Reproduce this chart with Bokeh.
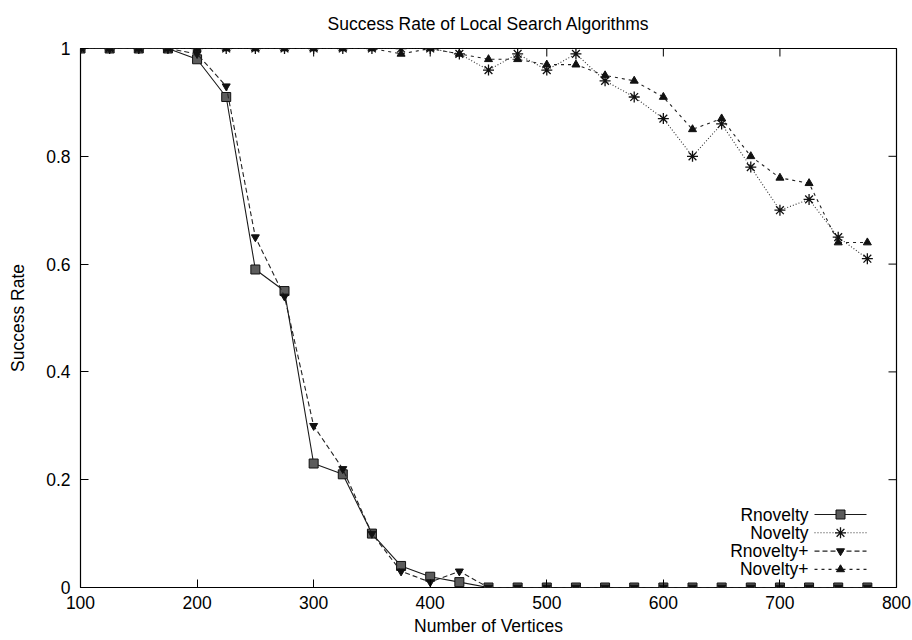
from bokeh.plotting import figure
from bokeh.models import ColumnDataSource, LinearAxis, FixedTicker, Label, Range1d
from bokeh.embed import file_html
from bokeh.resources import INLINE

# Number of vertices tested
vertices = [100, 125, 150, 175, 200, 225, 250, 275, 300, 325, 350, 375, 400, 425,
            450, 475, 500, 525, 550, 575, 600, 625, 650, 675, 700, 725, 750, 775]

# Success rate per algorithm
rnovelty = [1.0, 1.0, 1.0, 1.0, 0.98, 0.91, 0.59, 0.55, 0.23, 0.21, 0.10, 0.04, 0.02, 0.01,
            0.0, 0.0, 0.0, 0.0, 0.0, 0.0, 0.0, 0.0, 0.0, 0.0, 0.0, 0.0, 0.0, 0.0]
novelty = [1.0, 1.0, 1.0, 1.0, 1.0, 1.0, 1.0, 1.0, 1.0, 1.0, 1.0, 1.0, 1.0, 0.99,
           0.96, 0.99, 0.96, 0.99, 0.94, 0.91, 0.87, 0.80, 0.86, 0.78, 0.70, 0.72, 0.65, 0.61]
rnovelty_plus = [1.0, 1.0, 1.0, 1.0, 0.99, 0.93, 0.65, 0.54, 0.30, 0.22, 0.10, 0.03, 0.01, 0.03,
                 0.0, 0.0, 0.0, 0.0, 0.0, 0.0, 0.0, 0.0, 0.0, 0.0, 0.0, 0.0, 0.0, 0.0]
novelty_plus = [1.0, 1.0, 1.0, 1.0, 1.0, 1.0, 1.0, 1.0, 1.0, 1.0, 1.0, 0.99, 1.0, 0.99,
                0.98, 0.98, 0.97, 0.97, 0.95, 0.94, 0.91, 0.85, 0.87, 0.80, 0.76, 0.75, 0.64, 0.64]

series_names = ["Rnovelty", "Novelty", "Rnovelty+", "Novelty+"]
x_ticks = [100, 200, 300, 400, 500, 600, 700, 800]
y_ticks = [0, 0.2, 0.4, 0.6, 0.8, 1.0]
y_tick_labels = ["0", "0.2", "0.4", "0.6", "0.8", "1"]

FONT = "Liberation Sans"
FS = "17.5px"

# Frame size in pixels; the key and mirrored ticks use a pixel coordinate system
FRAME_W, FRAME_H = 816, 539
TICK_LEN = 8

# Per-series line / marker styles (gnuplot-like monochrome)
styles = [
    dict(line=dict(line_color="#1a1a1a", line_width=1.1),
         mark=dict(marker="square", size=9, fill_color="#5c5c5c",
                   line_color="#111111", line_width=1)),
    dict(line=dict(line_color="#333333", line_width=1.1, line_dash="1 2"),
         mark=dict(marker="asterisk", size=11, line_color="#111111", line_width=1.3)),
    dict(line=dict(line_color="#222222", line_width=1.1, line_dash="5 3"),
         mark=dict(marker="inverted_triangle", size=8, fill_color="#111111",
                   line_color="#111111")),
    dict(line=dict(line_color="#222222", line_width=1.1, line_dash="3 4"),
         mark=dict(marker="triangle", size=8, fill_color="#111111",
                   line_color="#111111")),
]

src = ColumnDataSource(dict(x=vertices, s0=rnovelty, s1=novelty,
                            s2=rnovelty_plus, s3=novelty_plus))

p = figure(width=912, height=640, output_backend="svg", toolbar_location=None,
           x_range=(100, 800), y_range=(0, 1),
           min_border_left=80, min_border_right=16, min_border_top=48,
           min_border_bottom=53, x_axis_location=None, y_axis_location=None,
           title="Success Rate of Local Search Algorithms")
p.extra_x_ranges = {"px": Range1d(0, FRAME_W)}
p.extra_y_ranges = {"py": Range1d(0, FRAME_H)}
p.grid.visible = False
p.outline_line_color = "black"
p.outline_line_width = 1.2
p.background_fill_color = "white"
p.border_fill_color = "white"

p.title.align = "center"
p.title.vertical_align = "top"
p.title.text_font = FONT
p.title.text_font_size = FS
p.title.text_font_style = "normal"
p.title.text_color = "black"
p.title.standoff = 25

x_tick = FixedTicker(ticks=x_ticks, minor_ticks=[])
y_tick = FixedTicker(ticks=y_ticks, minor_ticks=[])
y_overrides = {t: s for t, s in zip(y_ticks, y_tick_labels)}


def style_axis(ax):
    ax.axis_line_color = None
    ax.major_tick_in = TICK_LEN
    ax.major_tick_out = 0
    ax.major_tick_line_color = "black"
    ax.minor_tick_line_color = None
    ax.major_label_text_font = FONT
    ax.major_label_text_font_size = FS
    ax.major_label_text_color = "black"
    ax.axis_label_text_font = FONT
    ax.axis_label_text_font_size = FS
    ax.axis_label_text_font_style = "normal"
    ax.axis_label_text_color = "black"


xb = LinearAxis(ticker=x_tick, axis_label="Number of Vertices")
style_axis(xb)
xb.major_label_standoff = 8
xb.axis_label_standoff = 4
p.add_layout(xb, "below")

yl = LinearAxis(ticker=y_tick, axis_label="Success Rate",
                major_label_overrides=y_overrides)
style_axis(yl)
yl.major_label_standoff = 10
yl.axis_label_standoff = 15
p.add_layout(yl, "left")

# Mirrored tick marks along the top and right edges
p.segment(x0=x_ticks, x1=x_ticks, y0=[FRAME_H] * len(x_ticks),
          y1=[FRAME_H - TICK_LEN] * len(x_ticks), y_range_name="py",
          line_color="black", line_width=1)
p.segment(x0=[FRAME_W] * len(y_ticks), x1=[FRAME_W - TICK_LEN] * len(y_ticks),
          y0=y_ticks, y1=y_ticks, x_range_name="px",
          line_color="black", line_width=1)

# Curves, in plotting order
for i, st in enumerate(styles):
    p.line("x", f"s{i}", source=src, **st["line"])
    p.scatter("x", f"s{i}", source=src, **st["mark"])

# Key in the lower right: name, then a line sample with its marker
KEY_TOP = 73      # pixels above the frame bottom, first row
KEY_STEP = 18.3
KEY_TEXT_RIGHT = 728
KEY_X0, KEY_X1 = 734, 786
for i, (name, st) in enumerate(zip(series_names, styles)):
    yy = KEY_TOP - i * KEY_STEP
    p.line([KEY_X0, KEY_X1], [yy, yy], x_range_name="px", y_range_name="py",
           **st["line"])
    p.scatter([(KEY_X0 + KEY_X1) / 2], [yy], x_range_name="px",
              y_range_name="py", **st["mark"])
    p.add_layout(Label(x=KEY_TEXT_RIGHT, y=yy, x_units="screen", y_units="screen",
                       text=name, text_align="right", text_baseline="middle",
                       text_font=FONT, text_font_size=FS, text_color="black"))

open("out.html", "w").write(file_html(p, INLINE))
